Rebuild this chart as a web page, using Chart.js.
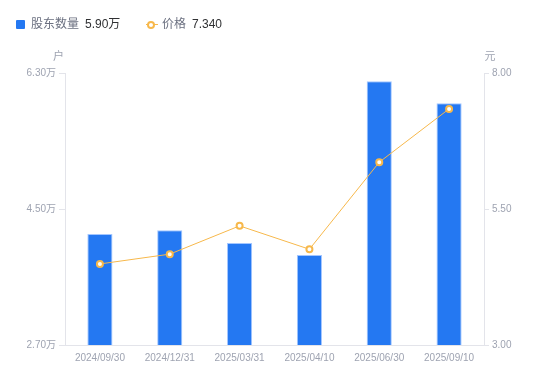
<!DOCTYPE html>
<html><head><meta charset="utf-8">
<script src="https://cdn.jsdelivr.net/npm/chart.js@4"></script>
<style>
html,body{margin:0;padding:0;background:#fff;}
#wrap{position:relative;width:550px;height:381px;}
canvas{position:absolute;left:0;top:0;}
.lg{position:absolute;top:16px;font:12px "Liberation Sans","Noto Sans CJK SC",sans-serif;line-height:17px;white-space:nowrap;}
.lg .n{color:#6b7080;}
.lg .v{color:#303133;margin-left:6px;}
.sq{position:absolute;left:16px;top:20px;width:9px;height:9px;background:#2478f2;border-radius:1px;}
.ln{position:absolute;left:146px;top:24px;width:12px;height:1px;background:#f7b84b;}
.ci{position:absolute;left:147px;top:20.5px;width:4px;height:4px;border:2px solid #f7b84b;border-radius:50%;background:#fff;}
</style></head>
<body>
<div id="wrap">
<canvas id="c" width="550" height="381"></canvas>
<div class="sq"></div><div class="lg" style="left:31px"><span class="n">股东数量</span><span class="v">5.90万</span></div>
<div class="ln"></div><div class="ci"></div><div class="lg" style="left:162px"><span class="n">价格</span><span class="v">7.340</span></div>
</div>
<script>
const categories = ["2024/09/30","2024/12/31","2025/03/31","2025/04/10","2025/06/30","2025/09/10"];
const holders = [4.17, 4.22, 4.05, 3.89, 6.19, 5.90];   // 万户
const prices = [4.49, 4.67, 5.19, 4.76, 6.36, 7.34];    // 元
const leftTicks = [2.70, 4.50, 6.30];
const rightTicks = [3.00, 5.50, 8.00];

const FONT = '"Liberation Sans","Noto Sans CJK SC",sans-serif';
const TICK_COLOR = '#9ea3b1';
const AXIS_COLOR = '#e3e4ea';

const titles = {
  id: 'axisTitles',
  afterDraw(chart) {
    const ctx = chart.ctx, a = chart.chartArea;
    ctx.save();
    ctx.font = '11px ' + FONT;
    ctx.fillStyle = TICK_COLOR;
    ctx.textAlign = 'center';
    ctx.textBaseline = 'middle';
    ctx.fillText('户', a.left - 6.5, a.top - 16);
    ctx.fillText('元', a.right + 6, a.top - 16);
    ctx.restore();
  }
};

new Chart(document.getElementById('c'), {
  data: {
    labels: categories,
    datasets: [
      {
        type: 'line', label: '价格', data: prices, yAxisID: 'y1', order: 0,
        borderColor: '#f7b84b', borderWidth: 1, backgroundColor: '#fff',
        pointRadius: 3, pointBorderWidth: 2, pointBorderColor: '#f7b84b', pointBackgroundColor: '#fff',
        tension: 0
      },
      {
        type: 'bar', label: '股东数量', data: holders, yAxisID: 'y', order: 1,
        backgroundColor: '#2478f2', borderColor: '#a3c6ff', borderWidth: 1,
        barPercentage: 0.36, categoryPercentage: 1
      }
    ]
  },
  options: {
    responsive: false, animation: false,
    layout: { padding: { top: 73, left: 0, right: 0, bottom: 0 } },
    plugins: { legend: { display: false }, tooltip: { enabled: false } },
    scales: {
      x: {
        grid: { display: false, drawTicks: false },
        border: { display: true, color: AXIS_COLOR, width: 1 },
        ticks: { color: TICK_COLOR, font: { family: FONT, size: 10 }, padding: 7, maxRotation: 0, autoSkip: false },
        afterFit(s) { s.height = 36; }
      },
      y: {
        position: 'left', min: 2.7, max: 6.3,
        afterBuildTicks(s) { s.ticks = leftTicks.map(v => ({ value: v })); },
        grid: { drawOnChartArea: false, drawTicks: true, tickLength: 6, tickColor: AXIS_COLOR },
        border: { display: true, color: AXIS_COLOR, width: 1 },
        ticks: { color: TICK_COLOR, font: { family: FONT, size: 10 }, padding: 3,
          callback: v => v.toFixed(2) + '万' },
        afterFit(s) { s.width = 65; }
      },
      y1: {
        position: 'right', min: 3, max: 8,
        afterBuildTicks(s) { s.ticks = rightTicks.map(v => ({ value: v })); },
        grid: { drawOnChartArea: false, drawTicks: true, tickLength: 5, tickColor: AXIS_COLOR },
        border: { display: true, color: AXIS_COLOR, width: 1 },
        ticks: { color: TICK_COLOR, font: { family: FONT, size: 10 }, padding: 3,
          callback: v => v.toFixed(2) },
        afterFit(s) { s.width = 66; }
      }
    }
  },
  plugins: [titles]
});
</script>
</body></html>
